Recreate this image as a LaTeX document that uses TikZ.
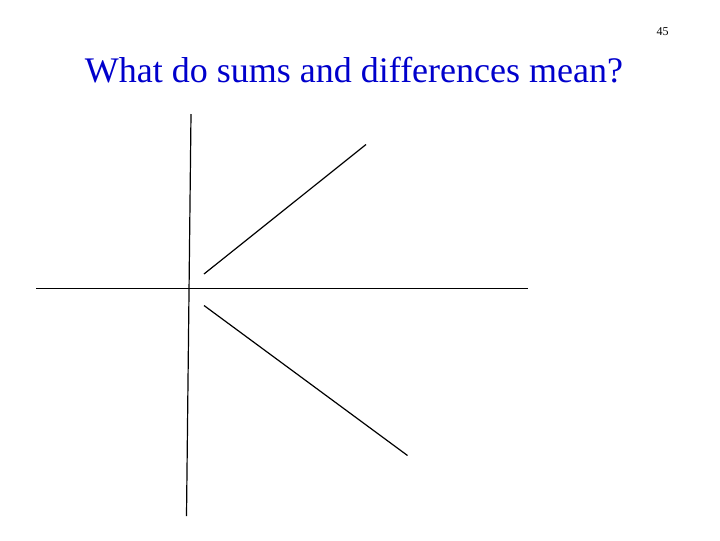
\documentclass[tikz,border=0pt]{standalone}
\usepackage{fontspec}
\setmainfont{Liberation Serif}
\definecolor{titleblue}{RGB}{0,0,204}
\tikzset{every picture/.style={line width=0.75pt}}
\tikzset{stroke/.style={color=black,line width=0.9}}

\begin{document}
\begin{tikzpicture}[x=0.75pt,y=0.75pt,yscale=-1,xscale=1]
        %set diagram to 720 x 540
        \useasboundingbox (0,0) rectangle (720,540);

        % Text Node
        \node (pagenum) [anchor=base east][inner sep=0.75pt] at (670,35) {\fontsize{9}{10}\selectfont 45};
        % Text Node
        \node (title) [anchor=base][inner sep=0.75pt][color=titleblue] at (354,82) {\fontsize{27}{31}\selectfont What do sums and differences mean?};

        %Straight Lines [id:vertical axis]
        \draw [stroke]  (191,114) -- (186.5,516) ;
        %Straight Lines [id:horizontal axis]
        \draw [stroke]  (36,288.5) -- (528,288.5) ;
        %Straight Lines [id:upper ray]
        \draw [stroke]  (204,274) -- (366,144.5) ;
        %Straight Lines [id:lower ray]
        \draw [stroke]  (204,305.5) -- (407.5,455.5) ;

\end{tikzpicture}
\end{document}
